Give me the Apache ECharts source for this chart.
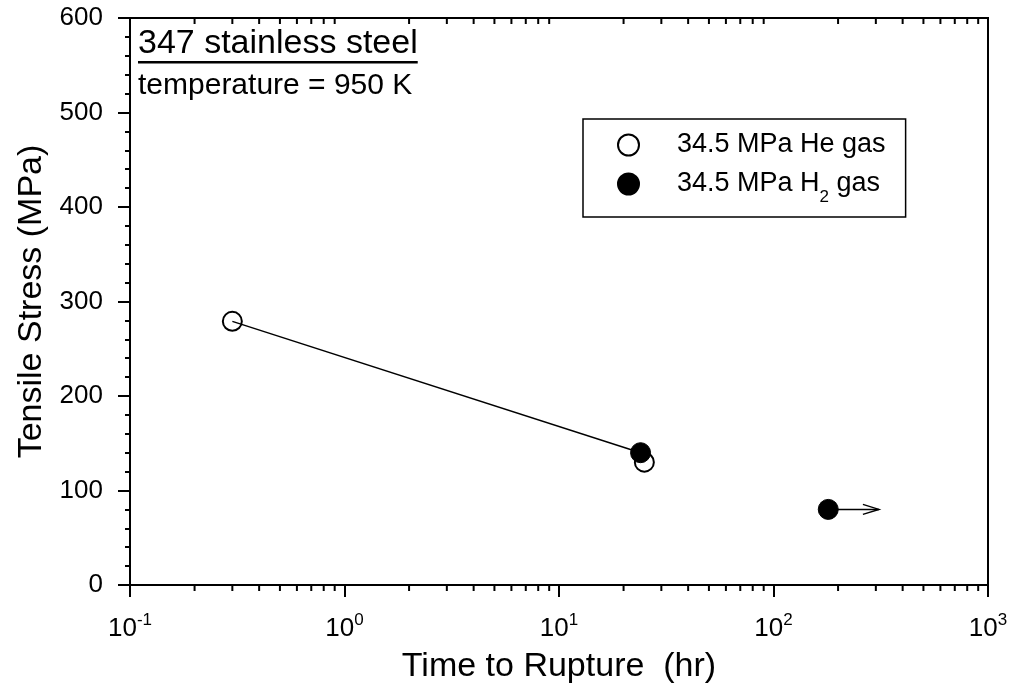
<!DOCTYPE html>
<html>
<head>
<meta charset="utf-8">
<script src="https://cdn.jsdelivr.net/npm/echarts@6/dist/echarts.min.js"></script>
<style>html,body{margin:0;padding:0;background:#fff}#c{width:1011px;height:689px}</style>
</head>
<body>
<div id="c"></div>
<script>
// ---- data ----
const heGas = [[0.3, 279], [25, 130]];          // 34.5 MPa He gas (open)
const h2Gas = [[24, 140], [180, 80]];           // 34.5 MPa H2 gas (filled)
const trendLine = [[0.3, 279], [24, 140]];      // connecting line
const runoutArrow = [[180, 80, 310]];           // [x start, y, x end]
const xTickExponents = [-1, 0, 1, 2, 3];
const minorTickValues = [];
[0.1, 1, 10, 100].forEach(function (d) { for (let k = 2; k <= 9; k++) minorTickValues.push(+(d * k).toPrecision(3)); });
const titleText = '347 stainless steel';
const subtitleText = 'temperature = 950 K';
const FONT = "'Liberation Sans', Arial, Helvetica, sans-serif";

const chart = echarts.init(document.getElementById('c'), null, {renderer: 'canvas'});

function tickRender(dir, yVal, len) {
  return function (params, api) {
    const p = api.coord([api.value(0), yVal]);
    return {type: 'line', shape: {x1: p[0], y1: p[1], x2: p[0], y2: p[1] + dir * len},
      style: {stroke: '#000', lineWidth: 2}};
  };
}

const ctx = document.createElement('canvas').getContext('2d');
ctx.font = '34px ' + FONT;
const titleW = ctx.measureText(titleText).width;

chart.setOption({
  animation: false,
  backgroundColor: '#fff',
  grid: {left: 130, right: 23, top: 18, bottom: 104, show: true, borderColor: '#000', borderWidth: 2, containLabel: false},
  legend: {
    orient: 'vertical', left: 583, top: 119,
    padding: [11, 20, 11, 34], itemGap: 2, itemWidth: 21, itemHeight: 21,
    borderColor: '#000', borderWidth: 1.5,
    data: [{name: 'He', icon: 'circle'}, {name: 'H2', icon: 'circle'}],
    formatter: function (n) { return n === 'He' ? '{g|}34.5 MPa He gas' : '{g|}34.5 MPa H{sub|2} gas'; },
    textStyle: {fontFamily: FONT, fontSize: 27, color: '#000', lineHeight: 30,
      rich: {
        g: {width: 33, lineHeight: 30},
        sub: {fontFamily: FONT, fontSize: 17, lineHeight: 44, verticalAlign: 'bottom'}
      }}
  },
  xAxis: [{
    type: 'log', logBase: 10, min: 0.1, max: 1000,
    name: 'Time to Rupture  (hr)', nameLocation: 'middle', nameGap: 65,
    nameTextStyle: {fontFamily: FONT, fontSize: 34, color: '#000'},
    axisLine: {lineStyle: {color: '#000', width: 2}},
    axisTick: {inside: false, length: 12, lineStyle: {color: '#000', width: 2}},
    minorTick: {show: false},
    splitLine: {show: false},
    axisLabel: {
      margin: 27, color: '#000', fontFamily: FONT, fontSize: 26,
      formatter: function (v) { const e = Math.round(Math.log10(v)); return xTickExponents.indexOf(e) >= 0 ? '10{sup|' + e + '}' : ''; },
      rich: {sup: {fontFamily: FONT, fontSize: 17, lineHeight: 34, verticalAlign: 'top'}}
    }
  }, {
    type: 'log', logBase: 10, min: 0.1, max: 1000, position: 'top',
    axisLine: {lineStyle: {color: '#000', width: 2}}, axisTick: {show: false}, axisLabel: {show: false}, splitLine: {show: false}
  }],
  yAxis: {
    type: 'value', min: 0, max: 600, interval: 100,
    name: 'Tensile Stress (MPa)', nameLocation: 'middle', nameGap: 76,
    nameTextStyle: {fontFamily: FONT, fontSize: 34, color: '#000'},
    axisLine: {lineStyle: {color: '#000', width: 2}},
    axisTick: {inside: false, length: 12, lineStyle: {color: '#000', width: 2}},
    minorTick: {show: true, splitNumber: 5, length: 5, lineStyle: {color: '#000', width: 2}},
    splitLine: {show: false},
    axisLabel: {margin: 27, color: '#000', fontFamily: FONT, fontSize: 26}
  },
  graphic: [
    {type: 'text', left: 138, top: 27, style: {text: titleText, font: '34px ' + FONT, fill: '#000'}},
    {type: 'rect', left: 138, top: 61, shape: {width: titleW, height: 2.5}, style: {fill: '#000'}},
    {type: 'text', left: 138, top: 71, style: {text: subtitleText, font: '30px ' + FONT, fill: '#000'}}
  ],
  series: [
    {name: 'He', type: 'scatter', data: heGas, symbol: 'circle', symbolSize: 19,
      itemStyle: {color: 'rgba(255,255,255,0)', borderColor: '#000', borderWidth: 2, opacity: 1}, z: 3},
    {name: 'line', type: 'line', data: trendLine, symbol: 'none', lineStyle: {color: '#000', width: 1.5}, z: 4},
    {name: 'H2', type: 'scatter', data: h2Gas, symbol: 'circle', symbolSize: 20,
      itemStyle: {color: '#000', borderColor: '#000', borderWidth: 1, opacity: 1}, z: 5},
    {name: 'arrow', type: 'custom', data: runoutArrow, z: 4,
      renderItem: function (params, api) {
        const a = api.coord([api.value(0), api.value(1)]);
        const b = api.coord([api.value(2), api.value(1)]);
        return {type: 'group', children: [
          {type: 'line', shape: {x1: a[0], y1: a[1], x2: b[0], y2: b[1]}, style: {stroke: '#000', lineWidth: 1.5}},
          {type: 'polyline', shape: {points: [[b[0] - 16, b[1] - 5], [b[0], b[1]], [b[0] - 16, b[1] + 5]]}, style: {stroke: '#000', fill: null, lineWidth: 1.5}}
        ]};
      }},
    {name: 'bottomMinor', type: 'custom', data: minorTickValues.map(function (v) { return [v]; }), z: 6, silent: true,
      renderItem: tickRender(1, 0, 6)},
    {name: 'topMinor', type: 'custom', data: minorTickValues.map(function (v) { return [v]; }), z: 6, silent: true,
      renderItem: tickRender(1, 600, 6)}
  ]
});
</script>
</body>
</html>
